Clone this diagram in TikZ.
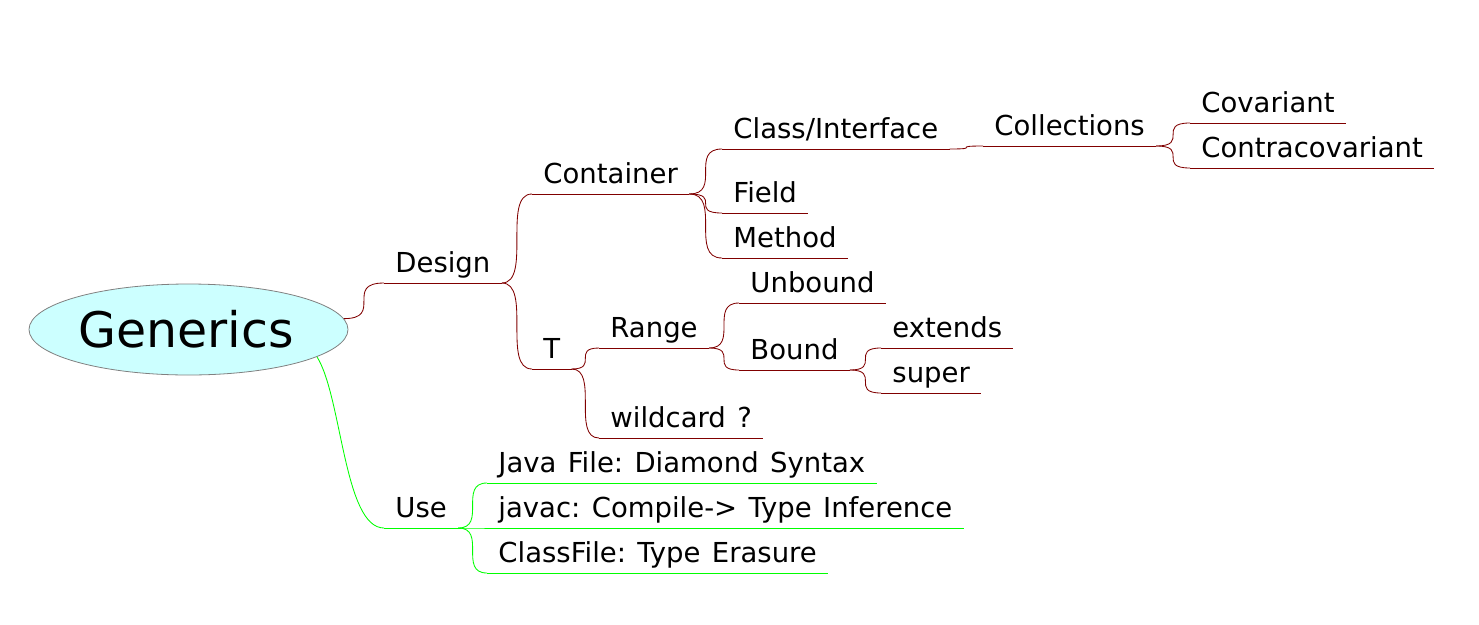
\documentclass[tikz,border=0pt]{standalone}
\usepackage{fontspec}
\setmainfont[WordSpace=1.3]{DejaVu Sans}
\frenchspacing
\usetikzlibrary{shapes.geometric}
\definecolor{designred}{RGB}{128, 0, 0}
\definecolor{usegreen}{RGB}{0, 255, 0}
\definecolor{rootcyan}{RGB}{204, 255, 255}
\definecolor{rootgrey}{RGB}{128, 128, 128}

\tikzset{
  topic/.style={anchor=south west, inner xsep=11pt, inner ysep=10.5pt, text depth=0pt,
    font=\fontsize{27.5}{33}\selectfont},
  fork/.style={to path={.. controls (\tikztotarget|-\tikztostart) and (\tikztostart|-\tikztotarget) .. (\tikztotarget)}}
}

\begin{document}
\begin{tikzpicture}[x=1pt, y=-1pt, line width=0.85pt]
  \useasboundingbox (0,0) rectangle (1479,624);

  % Root
  \node[ellipse, draw=rootgrey, line width=0.8pt, fill=rootcyan, minimum width=319pt, minimum height=91pt,
    font=\fontsize{49}{58}\selectfont] (root) at (188.5, 329.5) {\hspace*{-5pt}Generics};

  % Design branch
  \node[topic] (design) at (384, 283) {Design};
  \node[topic] (container) at (532, 194) {Container};
  \node[topic] (classif) at (722, 149) {Class/Interface};
  \node[topic] (collections) at (983, 146) {Collections};
  \node[topic] (covariant) at (1190, 123) {Covariant};
  \node[topic] (contra) at (1190, 168) {Contracovariant};
  \node[topic] (field) at (722, 213) {Field};
  \node[topic] (method) at (722, 258) {Method};
  \node[topic] (t) at (532, 369) {T};
  \node[topic] (range) at (599, 348) {Range};
  \node[topic] (unbound) at (739, 303) {Unbound};
  \node[topic] (bound) at (739, 370) {Bound};
  \node[topic] (extends) at (881, 348) {extends};
  \node[topic] (super) at (881, 393) {super};
  \node[topic] (wildcard) at (599, 438) {wildcard ?};

  % Use branch
  \node[topic] (use) at (384, 528) {Use};
  \node[topic] (javafile) at (487, 483) {Java File: Diamond Syntax};
  \node[topic] (javac) at (487, 528) {javac: Compile-> Type Inference};
  \node[topic] (classfile) at (487, 573) {ClassFile: Type Erasure};

  % Underlines
  \foreach \n in {design, container, classif, collections, covariant, contra, field, method,
                  t, range, unbound, bound, extends, super, wildcard}
    \draw[designred] (\n.south west) -- (\n.south east);
  \foreach \n in {use, javafile, javac, classfile}
    \draw[usegreen] (\n.south west) -- (\n.south east);

  % Connectors
  \draw[designred] (root.4) to[fork] (design.south west);
  \draw[designred] (design.south east) to[fork] (container.south west);
  \draw[designred] (design.south east) to[fork] (t.south west);
  \draw[designred] (container.south east) to[fork] (classif.south west);
  \draw[designred] (container.south east) to[fork] (field.south west);
  \draw[designred] (container.south east) to[fork] (method.south west);
  \draw[designred] (classif.south east) to[fork] (collections.south west);
  \draw[designred] (collections.south east) to[fork] (covariant.south west);
  \draw[designred] (collections.south east) to[fork] (contra.south west);
  \draw[designred] (t.south east) to[fork] (range.south west);
  \draw[designred] (t.south east) to[fork] (wildcard.south west);
  \draw[designred] (range.south east) to[fork] (unbound.south west);
  \draw[designred] (range.south east) to[fork] (bound.south west);
  \draw[designred] (bound.south east) to[fork] (extends.south west);
  \draw[designred] (bound.south east) to[fork] (super.south west);

  \draw[usegreen] (root.-12) .. controls +(25,40) and +(-40,0) .. (use.south west);
  \draw[usegreen] (use.south east) to[fork] (javafile.south west);
  \draw[usegreen] (use.south east) to[fork] (javac.south west);
  \draw[usegreen] (use.south east) to[fork] (classfile.south west);
\end{tikzpicture}
\end{document}
